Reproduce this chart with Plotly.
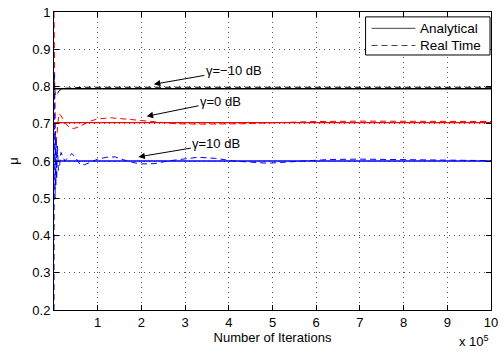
import plotly.graph_objects as go

# ---- data (x in units of 1e5 iterations) ----
analytical_mu = {"-10": 0.794, "0": 0.703, "10": 0.600}
x_span = [0, 10]

iters_black = [0, 0.01, 0.03, 0.05, 0.08, 0.12, 0.2, 0.4, 0.7, 1, 1.5, 2, 3, 4, 5, 6, 7, 8, 9, 10]
rt_black = [0.82, 0.79, 0.776, 0.775, 0.781, 0.789, 0.795, 0.797, 0.798, 0.798, 0.798, 0.798,
            0.798, 0.798, 0.798, 0.798, 0.798, 0.798, 0.798, 0.798]

iters_red = [0, 0.01, 0.02, 0.03, 0.05, 0.08, 0.11, 0.16, 0.25, 0.35, 0.45, 0.6, 0.8, 1.0, 1.3,
             1.6, 2.0, 2.4, 2.8, 3.3, 3.8, 4.3, 4.8, 5.3, 6, 7, 8, 9, 10]
rt_red = [1.0, 0.9, 0.78, 0.66, 0.65, 0.7, 0.727, 0.722, 0.703, 0.69, 0.687, 0.693, 0.706, 0.713,
          0.716, 0.713, 0.708, 0.703, 0.700, 0.699, 0.699, 0.700, 0.702, 0.704, 0.706, 0.707,
          0.707, 0.706, 0.706]

iters_blue = [0, 0.004, 0.008, 0.012, 0.016, 0.02, 0.025, 0.03, 0.04, 0.05, 0.06, 0.08, 0.1, 0.13,
              0.16, 0.2, 0.25, 0.32, 0.41, 0.5, 0.6, 0.7, 0.8, 0.9, 1.0, 1.2, 1.4, 1.6, 1.8, 2.0,
              2.3, 2.6, 2.9, 3.3, 3.7, 4.1, 4.5, 4.9, 5.3, 5.8, 6.3, 7, 7.7, 8.5, 9.3, 10]
rt_blue = [0.2, 0.84, 0.35, 0.78, 0.45, 0.72, 0.5, 0.68, 0.53, 0.66, 0.55, 0.64, 0.575, 0.59,
           0.623, 0.612, 0.6, 0.61, 0.62, 0.608, 0.59, 0.59, 0.595, 0.6, 0.605, 0.61, 0.611,
           0.603, 0.596, 0.592, 0.593, 0.6, 0.605, 0.61, 0.607, 0.6, 0.597, 0.594, 0.597, 0.601,
           0.604, 0.605, 0.604, 0.602, 0.601, 0.601]

x_ticks = [1, 2, 3, 4, 5, 6, 7, 8, 9, 10]
y_ticks = [0.2, 0.3, 0.4, 0.5, 0.6, 0.7, 0.8, 0.9, 1.0]
y_tick_text = ["0.2", "0.3", "0.4", "0.5", "0.6", "0.7", "0.8", "0.9", "1"]

labels = [("γ=−10 dB", 2.285, 0.806, 80, -14),
          ("γ=0 dB", 2.12, 0.720, 74, -15),
          ("γ=10 dB", 1.93, 0.611, 78, -13)]
legend_names = ["Analytical", "Real Time"]

FONT = "Liberation Sans, Arial, sans-serif"
DASH = "6px,4px"
W, H = 503, 353
ML, MR, MT, MB = 54, 10, 5, 43
PW, PH = W - ML - MR, H - MT - MB


def px(xp):
    return (xp - ML) / PW


def py(yp):
    return 1 - (yp - MT) / PH


fig = go.Figure()
for xs, ys, c in [(iters_black, rt_black, "black"), (iters_red, rt_red, "red"), (iters_blue, rt_blue, "blue")]:
    fig.add_trace(go.Scatter(x=xs, y=ys, mode="lines", line=dict(color=c, width=1, dash=DASH),
                             showlegend=False))
for key, c in [("-10", "black"), ("0", "red"), ("10", "blue")]:
    v = analytical_mu[key]
    fig.add_trace(go.Scatter(x=x_span, y=[v, v], mode="lines", line=dict(color=c, width=1.3),
                             showlegend=False))

for text, hx, hy, ax, ay in labels:
    fig.add_annotation(x=hx, y=hy, xref="x", yref="y", text=text, showarrow=True,
                       ax=ax, ay=ay, arrowhead=2, arrowsize=1.3, arrowwidth=1, arrowcolor="black",
                       font=dict(family=FONT, size=13, color="black"))

# manual legend box
fig.add_shape(type="rect", xref="paper", yref="paper", x0=px(367), x1=px(492), y0=py(49), y1=py(10),
              line=dict(color="black", width=1), fillcolor="white", layer="above")
for i, (name, dash) in enumerate(zip(legend_names, ["solid", DASH])):
    yy = 21.7 + i * 17.6
    fig.add_shape(type="line", xref="paper", yref="paper", x0=px(373), x1=px(417), y0=py(yy), y1=py(yy),
                  line=dict(color="#444", width=1, dash=dash), layer="above")
    fig.add_annotation(x=px(420), y=py(yy), xref="paper", yref="paper", xanchor="left", yanchor="middle",
                       text=name, showarrow=False, font=dict(family=FONT, size=13.5, color="black"))

fig.add_annotation(x=1.0, y=py(352), xref="paper", yref="paper", xanchor="right", yanchor="bottom",
                   text="x 10<sup>5</sup>", showarrow=False,
                   font=dict(family=FONT, size=13, color="black"))

axis_common = dict(showline=True, linecolor="black", linewidth=1, mirror="allticks",
                   ticks="inside", ticklen=5, tickcolor="black", ticklabeloverflow="allow",
                   showgrid=True, gridcolor="#555", gridwidth=1, griddash="1px,4px",
                   zeroline=False, tickfont=dict(family=FONT, size=13, color="black"))

fig.update_xaxes(range=[0, 10], tickvals=x_ticks, ticktext=[str(t) for t in x_ticks],
                 title=dict(text="Number of Iterations", font=dict(family=FONT, size=13, color="black"),
                            standoff=4),
                 **axis_common)
fig.update_yaxes(range=[0.2, 1.0], tickvals=y_ticks, ticktext=y_tick_text,
                 title=dict(text="μ", font=dict(family=FONT, size=13, color="black"), standoff=10),
                 **axis_common)

fig.update_layout(
    width=W, height=H,
    margin=dict(l=ML, r=MR, t=MT, b=MB),
    paper_bgcolor="white", plot_bgcolor="white",
    font=dict(family=FONT, size=13, color="black"),
    showlegend=False,
)

fig.write_html("out.html")
